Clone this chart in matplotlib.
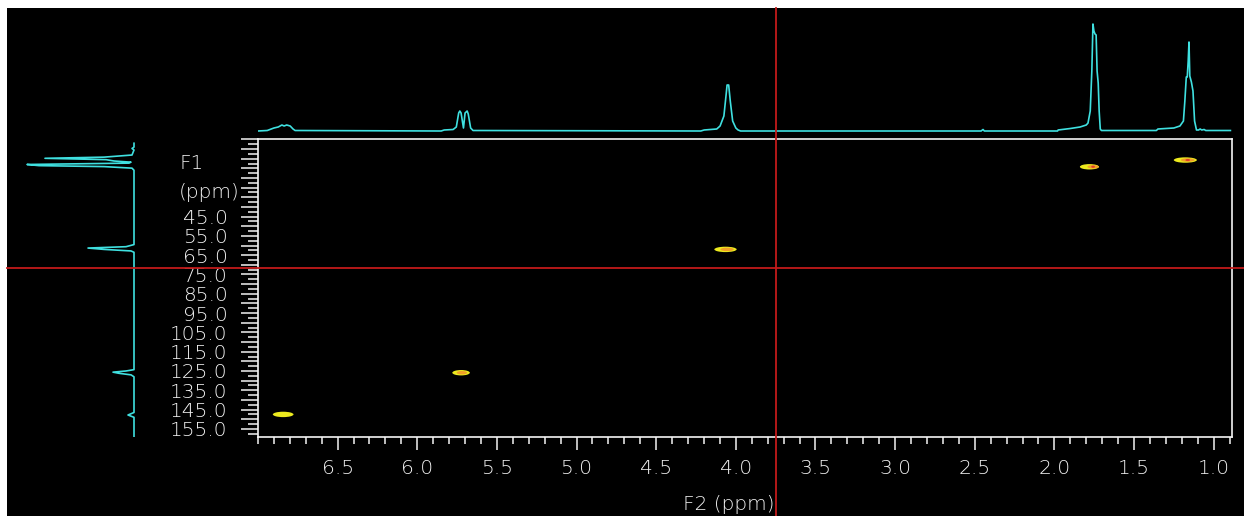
import matplotlib
matplotlib.use("Agg")
import matplotlib.pyplot as plt
from matplotlib.patches import Ellipse, Rectangle
from matplotlib.ticker import FixedLocator, MultipleLocator, FuncFormatter

# ---------------- data ----------------
# 1H projection trace (F2 ppm, intensity)
h_ppm = [7.00, 6.942, 6.90, 6.873, 6.85, 6.836, 6.82, 6.798, 6.78, 6.767,
         5.85, 5.831, 5.775, 5.755, 5.74, 5.733, 5.725, 5.71, 5.70, 5.687, 5.68, 5.665, 5.65,
         4.22, 4.199, 4.12, 4.099, 4.075, 4.06, 4.055, 4.045, 4.035, 4.02, 4.00, 3.986, 3.97,
         2.46, 2.448, 2.44,
         1.98, 1.977, 1.90, 1.839, 1.80, 1.789, 1.775, 1.765, 1.758, 1.752, 1.745, 1.738,
         1.732, 1.725, 1.719, 1.712, 1.705,
         1.36, 1.35, 1.25, 1.212, 1.19, 1.181, 1.172, 1.166, 1.160, 1.155, 1.150, 1.140,
         1.130, 1.12, 1.108, 1.095, 1.085, 1.075, 1.06, 1.05, 0.895]
h_int = [0, 0.5, 3, 4, 6, 5, 6, 5, 2, 0.5,
         0, 1, 1.5, 4, 18, 20, 18, 3, 18, 20, 17, 3, 0.5,
         0, 1, 2, 5, 15, 38, 46, 46, 30, 10, 3, 1, 0,
         0, 1.5, 0,
         0, 1, 2.5, 4, 6, 8, 20, 60, 107, 100, 97, 96,
         60, 48, 20, 2, 0.5,
         0.5, 2, 3, 5, 10, 30, 54, 54, 70, 89, 55, 49,
         40, 10, 1, 1, 2, 1, 1.5, 0.5, 0.5]

# 13C projection trace (F1 ppm, intensity)
c_ppm = [7.0, 9.0, 9.7, 10.5, 13.1, 14.2, 14.8, 15.5, 16.2, 16.8, 17.3, 18.0, 18.6,
         19.1, 19.9, 21.0, 59.5, 60.6, 61.3, 62.0, 62.8, 63.5,
         124.3, 125.0, 125.6, 126.2, 127.0, 128.0, 146.5, 147.8, 149.0, 159.2]
c_int = [0, 0, 2, 0, 2, 30, 89, 28, 20, 3, 5, 107, 95,
         30, 2, 0, 0, 8, 46, 30, 3, 0,
         0, 8, 21, 15, 3, 0, 0, 6, 0, 0]

# HSQC cross peaks
xpk_x = [6.842, 5.725, 4.065, 1.780, 1.178]
xpk_y = [147.5, 125.9, 62.0, 19.2, 15.7]
xpk_w = [0.13, 0.11, 0.14, 0.12, 0.145]
xpk_core = [6.842, 5.720, 4.055, 1.757, 1.163]
xpk_levels = [1, 2, 2, 3, 3]

# cursor position
cursor_f2 = 3.747
cursor_f1 = 71.4

x_ticks = [6.5, 6.0, 5.5, 5.0, 4.5, 4.0, 3.5, 3.0, 2.5, 2.0, 1.5, 1.0]
y_labels = [45.0, 55.0, 65.0, 75.0, 85.0, 95.0, 105.0, 115.0, 125.0, 135.0, 145.0, 155.0]

# ---------------- figure ----------------
W, H = 1244, 516
fig = plt.figure(figsize=(W / 100, H / 100), dpi=100, facecolor="white")
fig.add_artist(Rectangle((7 / W, 0), 1 - 7 / W, (H - 8) / H, transform=fig.transFigure,
                         facecolor="black", edgecolor="none", zorder=-10))

cyan = "#3fe0e0"
white = "#f4f4f4"
red = "#c21a1a"
FS = 14.5
FW = "light"

def fx(px):
    return px / W

def fy(py):
    return (H - py) / H

XL, XR, YT, YB = 258, 1232, 139, 437
xlim = (7.0, 0.885)
ylim = (159.2, 4.8)

# main 2D axes
ax = fig.add_axes([fx(XL), fy(YB), fx(XR - XL), (YB - YT) / H])
ax.set_facecolor("black")
ax.set_zorder(5)
ax.set_xlim(*xlim)
ax.set_ylim(*ylim)
for s in ax.spines.values():
    s.set_color(white)
    s.set_linewidth(1.2)

ax.xaxis.set_major_locator(FixedLocator(x_ticks))
ax.xaxis.set_minor_locator(MultipleLocator(0.1))
ax.xaxis.set_major_formatter(FuncFormatter(lambda v, p: f"{v:.1f}"))
ax.tick_params(axis="x", which="major", direction="out", length=9, width=1.1,
               color=white, labelcolor=white, labelsize=FS, pad=7)
ax.tick_params(axis="x", which="minor", direction="out", length=5, width=1.1, color=white)

ax.yaxis.set_major_locator(MultipleLocator(5))
ax.yaxis.set_minor_locator(MultipleLocator(2.5))
ax.yaxis.set_major_formatter(FuncFormatter(
    lambda v, p: f"{v:.1f}" if any(abs(v - l) < 1e-6 for l in y_labels) else ""))
ax.tick_params(axis="y", which="major", direction="out", length=12, width=1.1,
               color=white, labelcolor=white, labelsize=FS, pad=10)
ax.tick_params(axis="y", which="minor", direction="out", length=7, width=1.1, color=white)
for lab in ax.get_yticklabels() + ax.get_xticklabels():
    lab.set_fontfamily("DejaVu Sans")
    lab.set_fontweight(FW)

# cross peaks
yellow = "#ecea1e"
orange = "#f0a028"
redc = "#e0402a"
for x, y, w, core, lev in zip(xpk_x, xpk_y, xpk_w, xpk_core, xpk_levels):
    ax.add_patch(Ellipse((x, y), w, 2.8, facecolor=yellow, edgecolor="none", zorder=3))
    if lev >= 2:
        ax.add_patch(Ellipse((core, y), w * 0.6, 1.8, facecolor=orange, edgecolor="none", zorder=4))
    if lev >= 3:
        ax.add_patch(Ellipse((core, y), w * 0.2, 1.1, facecolor=redc, edgecolor="none", zorder=5))

# cursor cross-hair extending across the whole window
ax.axvline(cursor_f2, ymin=(YB - H) / (YB - YT), ymax=(YB - 8) / (YB - YT),
           color=red, lw=1.3, clip_on=False, zorder=10)
ax.axhline(cursor_f1, xmin=(7 - XL) / (XR - XL), xmax=(W - XL) / (XR - XL),
           color=red, lw=1.3, clip_on=False, zorder=10)

# top 1H projection
axt = fig.add_axes([fx(XL), fy(135), fx(XR - XL), 127 / H])
axt.set_facecolor("none")
axt.set_xlim(*xlim)
axt.set_ylim(-4, 123)
axt.plot(h_ppm, h_int, color=cyan, lw=1.2)
axt.axis("off")

# left 13C projection
axl = fig.add_axes([fx(10), fy(YB), fx(130), (YB - YT) / H])
axl.set_facecolor("none")
axl.set_ylim(*ylim)
axl.set_xlim(124, -6)
axl.plot(c_int, c_ppm, color=cyan, lw=1.2)
axl.axis("off")

# axis titles
fig.text(fx(180), fy(163.5), "F1", color=white, fontsize=FS, fontweight=FW, ha="left", va="center")
fig.text(fx(179), fy(192), "(ppm)", color=white, fontsize=FS, fontweight=FW, ha="left", va="center")
fig.text(fx(729), fy(510), "F2 (ppm)", color=white, fontsize=FS, fontweight=FW,
         ha="center", va="baseline")

fig.savefig("out.png", dpi=100, facecolor=fig.get_facecolor())
